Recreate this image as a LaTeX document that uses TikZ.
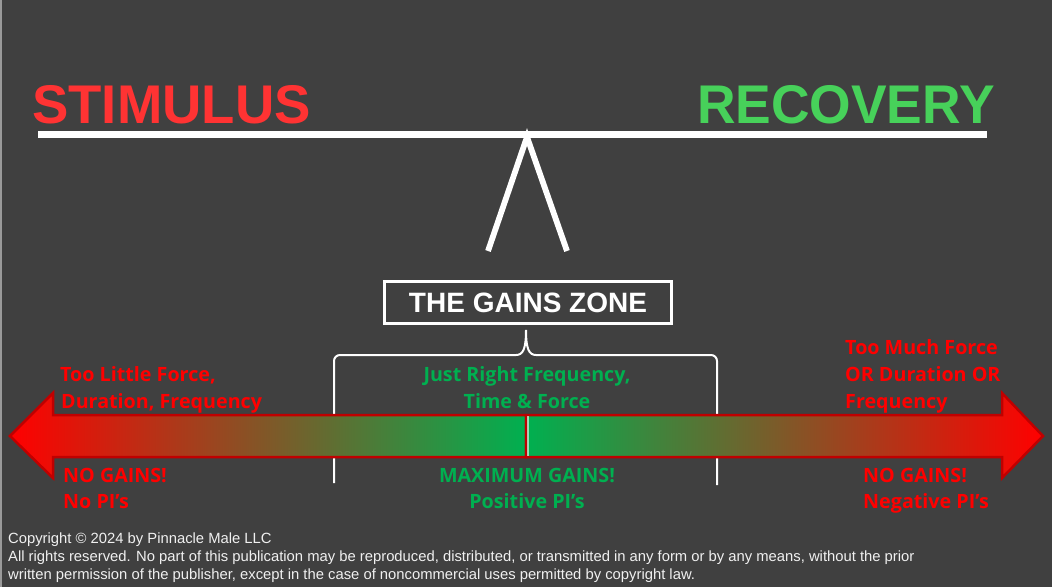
\documentclass[tikz,border=0pt]{standalone}
\usepackage{fontspec}
\setmainfont{Liberation Sans}
\newfontfamily\bodyfont{Open Sans}
\definecolor{bg}{HTML}{404040}
\definecolor{stimred}{HTML}{FF3333}
\definecolor{recgreen}{HTML}{47D15A}
\definecolor{bodyred}{HTML}{FF0000}
\definecolor{bodygreen}{HTML}{00B050}
\definecolor{arrowborder}{HTML}{C00000}
\definecolor{edgegray}{HTML}{9A9A9A}
\begin{document}
\begin{tikzpicture}[x=1pt,y=-1pt,
  heading/.style={anchor=base west, inner sep=0pt, font=\fontsize{54.5}{60}\selectfont\bfseries},
  redtxt/.style={anchor=base west, inner sep=0pt, text=bodyred, font=\bodyfont\bfseries\fontsize{19.7}{24}\selectfont},
  greentxt/.style={anchor=base, inner sep=0pt, text=bodygreen, font=\bodyfont\bfseries\fontsize{19.7}{24}\selectfont},
  copytxt/.style={anchor=base west, inner sep=0pt, text=white!94!black, font=\fontsize{14.8}{18}\selectfont},
  beamline/.style={white, line width=6.5pt},
  fulcrum/.style={white, line width=5.8pt, line join=miter},
  bracepath/.style={white, line width=2pt},
  halfarrow/.style={draw=arrowborder, line width=2.5pt, line join=miter}
]
\useasboundingbox (0,0) rectangle (1052,587);
\fill[bg] (0,0) rectangle (1052,587);
\draw[edgegray, line width=1.5pt] (0.75,0) -- (0.75,587);

% headings
\node[heading, text=stimred] (stim) at (32,123.5) {STIMULUS};
\node[heading, text=recgreen, anchor=base east] (rec) at (995,123.5) {\scalebox{0.98}[1]{RECOVERY}};

% beam and fulcrum
\coordinate (beamL) at (38,134.25);
\coordinate (beamR) at (987,134.25);
\draw[beamline] (beamL) -- (beamR);
\coordinate (apex) at (527,137);
\coordinate (fl) at (488,251);
\coordinate (fr) at (567,251);
\draw[fulcrum] (fl) -- (apex) -- (fr);

% gains zone box
\node[draw=white, line width=2.6pt, minimum width=287.5pt, minimum height=42.5pt, inner sep=0pt,
      text=white, font=\fontsize{28}{30}\selectfont\bfseries] (zone) at (528,302.5) {THE GAINS ZONE};

% brace
\coordinate (tip) at (526,330);
\coordinate (bl) at (334,483);
\coordinate (br) at (717,485);
\draw[bracepath, rounded corners=6pt] (bl) -- (334,355) -- (516,355);
\draw[bracepath] (516,355) .. controls (523,355) and (526,349) .. (tip)
  .. controls (526,349) and (529,355) .. (536,355);
\draw[bracepath, rounded corners=6pt] (536,355) -- (717,355) -- (br);

% double arrow (two halves)
\path[halfarrow, left color=bodyred, right color=bodygreen]
  (526,415) -- (53,415) -- (53,393) -- (10,436) -- (53,478) -- (53,457) -- (526,457) -- cycle;
\path[halfarrow, left color=bodygreen, right color=bodyred]
  (526,415) -- (1002,415) -- (1002,393) -- (1043,436) -- (1002,478) -- (1002,457) -- (526,457) -- cycle;
\coordinate (seamT) at (525.5,416);
\coordinate (seamB) at (525.5,456);
\draw[white, opacity=0.6, line width=2pt] ([xshift=2.8pt]seamT) -- ([xshift=2.8pt]seamB);
\draw[arrowborder, line width=2pt] (seamT) -- (seamB);

% left texts
\node[redtxt] (tlf1) at (60,381) {Too Little Force,};
\node[redtxt] (tlf2) at (61,408) {Duration, Frequency};
\node[redtxt] (ngl1) at (63,482) {NO GAINS!};
\node[redtxt] (ngl2) at (63,508) {No PI’s};

% centre texts
\node[greentxt] (jr1) at (527,381) {Just Right Frequency,};
\node[greentxt] (jr2) at (527,408) {Time \& Force};
\node[greentxt] (mg1) at (527,482) {MAXIMUM GAINS!};
\node[greentxt] (mg2) at (527,508) {Positive PI’s};

% right texts
\node[redtxt] (tm1) at (845,354) {Too Much Force};
\node[redtxt] (tm2) at (845,381) {OR Duration OR};
\node[redtxt] (tm3) at (845,408) {Frequency};
\node[redtxt] (ngr1) at (863,482) {NO GAINS!};
\node[redtxt] (ngr2) at (863,508) {Negative PI’s};

% copyright
\node[copytxt] (c1) at (8,543) {Copyright © 2024 by Pinnacle Male LLC};
\node[copytxt] (c2) at (8,561) {All rights reserved. No part of this publication may be reproduced, distributed, or transmitted in any form or by any means, without the prior};
\node[copytxt] (c3) at (8,579) {written permission of the publisher, except in the case of noncommercial uses permitted by copyright law.};
\end{tikzpicture}
\end{document}
